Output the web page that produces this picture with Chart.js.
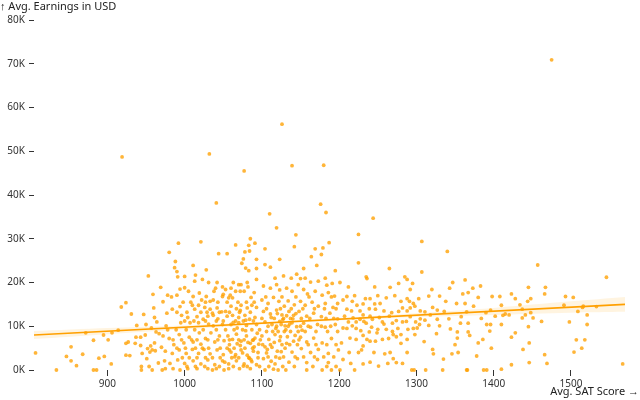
<!DOCTYPE html>
<html>
<head>
<meta charset="utf-8">
<script src="https://cdn.jsdelivr.net/npm/chart.js@4.4.1/dist/chart.umd.min.js"></script>
<style>
  body { margin: 0; background: #fff; }
</style>
</head>
<body>
<canvas id="myChart" width="640" height="400"></canvas>
<script>
const xTitle = "Avg. SAT Score →"
const yTitle = "↑ Avg. Earnings in USD"
const xTicks = [900, 1000, 1100, 1200, 1300, 1400, 1500]
const yTicks = [0, 10, 20, 30, 40, 50, 60, 70, 80]

// [avg SAT score, avg earnings in thousands USD]
const colleges = [
  [919,48.7],[1032,49.4],[1041,38.2],[1126,56.2],[1077,45.5],[1139,46.7],[1180,46.8],[1110,35.7],[1176,37.9],
  [1183,36.0],[1244,34.7],[1119,32.5],[1475,70.9],[1457,24.0],[1546,21.2],[1567,1.4],[1144,30.9],[1225,31.0],
  [992,29.0],[1021,29.3],[980,26.9],[1044,26.6],[1055,26.6],[987,23.4],[1011,23.9],[953,21.5],[990,22.5],
  [1000,21.4],[1014,21.7],[1028,22.9],[1013,20.3],[994,18.5],[1000,18.8],[978,17.1],[983,16.7],[990,17.1],
  [1011,16.8],[1019,17.6],[1028,16.8],[1040,18.7],[1050,17.3],[1057,16.5],
  [918,14.4],[924,15.4],[931,12.8],[960,14.2],[961,12.0],[950,10.4],[882,6.8],[895,8.0],[901,6.9],[906,8.5],
  [853,5.3],[807,3.9],[847,3.1],[853,2.1],[860,1.0],[834,0],[882,0],[886,0],[889,2.7],[896,3.1],[924,3.4],
  [929,3.3],[924,6.1],[927,6.4],[937,7.5],[943,7.5],[936,6.1],[943,5.6],[949,8.0],[945,3.8],[951,2.6],
  [952,4.9],[956,5.5],[961,6.2],[955,4.1],[958,4.6],[962,4.4],[944,0.8],[954,0.8],[957,9.6],[963,8.7],
  [1085,30.0],[1083,28.5],[1091,29.0],[1078,27.0],[1084,27.2],[1066,28.6],[1093,25.3],[1076,25.4],[1074,24.4],
  [1079,23.3],[991,21.3],[1023,20.7],[1049,19.0],[1053,18.4],[1060,18.7],[1070,19.5],[1073,19.5],[1059,17.1],
  [1062,16.5],[1072,18.0],[1082,19.0],[1090,17.7],[1086,16.6],[1093,20.7],[1093,23.2],[1083,22.7],[1022,16.0],
  [1033,15.7],[1037,16.0],[1049,16.8],[977,13.0],[984,13.9],[994,14.5],[1010,14.8],[1013,13.9],[1018,14.8],
  [1026,14.3],[1033,13.9],[1036,13.0],[1042,14.2],[1048,13.3],[1053,13.4],[1060,14.6],[1067,14.0],[1073,14.8],
  [1081,14.2],[1087,14.8],[1093,14.3],[996,12.5],[1004,12.0],[1016,12.2],[1024,11.6],[1030,12.3],[1037,12.5],
  [1043,11.7],[1055,12.3],[1062,12.5],[1070,12.0],[1078,12.5],[1084,11.6],[1091,12.0],[995,10.8],[1007,10.8],
  [1018,10.8],[1031,10.5],[1037,10.1],[1049,10.4],[1060,10.4],[1070,10.8],[1080,10.2],[1093,10.4],[972,7.8],
  [980,7.2],[986,5.8],[993,8.1],[999,6.2],[1006,7.5],[1011,6.4],[1019,8.5],[1021,5.9],[1027,7.2],[1034,8.5],
  [1039,6.4],[1045,7.8],[1051,6.7],[1056,7.8],[1062,7.0],[1067,8.2],[1073,6.6],[1080,7.8],[1085,6.1],[1091,7.3],
  [1096,5.9],[975,4.3],[984,3.8],[993,4.6],[1002,3.8],[1010,4.7],[1018,3.8],[1025,4.7],[1033,3.7],[1042,4.6],
  [1050,3.5],[1058,4.6],[1066,3.5],[1073,4.6],[1081,3.4],[1089,4.3],[974,2.1],[981,1.5],[991,2.3],[1000,1.5],
  [1011,2.1],[1021,1.4],[1030,2.3],[1039,1.2],[1049,2.1],[1057,1.4],[1067,2.1],[1077,1.4],[1086,2.3],[1093,1.2],
  [975,0.3],[985,0.3],[1004,0.3],[1016,0.3],[1030,0.3],[1041,0.3],[1057,0.3],[1071,0.3],[1085,0.3],
  [1104,27.7],[1142,28.2],[1169,27.7],[1179,27.9],[1187,29.1],[1177,26.4],[1164,25.9],[1123,25.3],[1104,24.1],
  [1111,23.5],[1154,23.2],[1171,23.9],[1195,22.7],[1225,24.5],[1128,21.5],[1145,21.9],[1150,20.9],[1163,20.1],
  [1173,20.3],[1184,19.4],[1191,19.8],[1201,20.0],[1210,16.8],[1102,19.2],[1111,18.7],[1119,19.5],[1123,18.3],
  [1132,18.7],[1139,18.0],[1147,19.5],[1154,18.4],[1159,17.4],[1169,18.0],[1178,17.1],[1186,17.7],[1194,16.9],
  [1205,16.0],[1217,15.7],[1223,14.8],[1100,16.0],[1108,15.2],[1115,16.6],[1122,15.7],[1129,14.6],[1134,15.8],
  [1142,14.9],[1150,15.7],[1156,14.8],[1165,15.5],[1173,14.6],[1182,15.2],[1192,14.3],[1198,15.2],[1210,13.9],
  [1102,13.4],[1111,12.8],[1119,13.7],[1126,12.6],[1135,13.4],[1141,12.5],[1148,13.4],[1158,12.3],[1167,13.0],
  [1177,12.2],[1188,13.0],[1198,11.7],[1207,12.3],[1218,11.9],[1104,11.0],[1113,10.4],[1123,11.1],[1130,10.1],
  [1139,10.8],[1145,9.9],[1154,10.7],[1163,9.8],[1172,10.4],[1182,9.8],[1195,10.4],[1205,9.6],[1217,10.1],
  [1100,7.8],[1109,7.0],[1117,8.1],[1123,6.7],[1133,7.6],[1141,6.6],[1150,7.5],[1158,6.4],[1167,7.3],[1178,6.2],
  [1190,7.2],[1203,6.2],[1214,7.3],[1104,5.3],[1107,4.7],[1113,5.2],[1120,4.3],[1130,5.0],[1139,4.1],[1151,4.9],
  [1163,4.0],[1173,4.7],[1186,3.8],[1199,4.6],[1213,4.0],[1102,2.6],[1112,2.0],[1123,2.7],[1135,1.8],[1146,2.6],
  [1158,1.7],[1172,2.4],[1186,1.7],[1205,2.4],[1104,0],[1115,0.2],[1158,0],[1178,0],[1201,0],
  [1307,29.4],[1340,27.1],[1265,23.2],[1307,22.4],[1235,21.3],[1236,20.9],[1285,21.3],[1288,20.7],[1277,19.8],
  [1295,19.8],[1266,18.9],[1292,18.4],[1320,18.4],[1343,18.7],[1347,20.0],[1373,18.7],[1383,19.2],[1330,16.9],
  [1360,17.4],[1367,17.7],[1380,16.6],[1261,16.5],[1234,16.3],[1240,16.3],[1288,16.3],[1303,16.3],[1291,15.7],
  [1280,15.7],[1296,15.2],[1338,15.7],[1352,15.2],[1363,15.2],[1231,15.1],[1246,15.1],[1253,15.2],[1239,14.0],
  [1247,13.9],[1282,14.2],[1292,14.2],[1298,14.6],[1321,14.3],[1327,13.7],[1336,13.4],[1268,13.1],[1277,13.4],
  [1311,13.3],[1318,12.6],[1365,13.3],[1231,12.6],[1240,12.3],[1252,12.0],[1265,12.3],[1292,12.2],[1305,11.7],
  [1227,11.6],[1232,11.1],[1243,11.6],[1274,11.3],[1287,11.1],[1311,11.4],[1342,11.7],[1357,10.7],[1367,10.7],
  [1391,10.4],[1235,10.7],[1258,10.5],[1269,10.7],[1304,10.4],[1316,10.2],[1330,10.1],[1242,9.8],[1250,9.3],
  [1261,9.3],[1289,9.3],[1301,9.6],[1228,9.0],[1239,8.7],[1249,8.5],[1269,8.8],[1231,7.9],[1270,8.1],[1274,7.6],
  [1280,8.1],[1298,8.1],[1353,8.7],[1367,8.7],[1369,7.9],[1264,7.2],[1240,6.6],[1247,6.6],[1280,6.1],[1353,7.3],
  [1380,6.2],[1386,7.0],[1231,5.5],[1229,4.6],[1259,3.7],[1270,2.6],[1274,1.7],[1321,4.7],[1322,3.7],[1346,3.7],
  [1354,4.0],[1231,1.4],[1240,1.8],[1251,0.9],[1294,0],[1297,0],[1312,0],[1334,0],[1365,0],[1387,0],[1391,0],
  [1445,18.9],[1467,18.9],[1398,16.8],[1408,16.8],[1423,17.4],[1428,16.3],[1466,17.4],[1493,16.8],[1503,16.6],
  [1448,16.3],[1444,15.7],[1410,14.8],[1434,14.9],[1491,14.8],[1515,14.3],[1516,14.6],[1533,14.5],[1437,13.9],
  [1396,13.7],[1509,13.4],[1521,12.6],[1415,12.8],[1420,12.6],[1412,12.5],[1402,12.3],[1441,12.6],[1448,13.1],
  [1437,11.9],[1451,11.9],[1462,11.1],[1498,11.0],[1396,10.4],[1410,10.4],[1521,10.4],[1445,9.9],[1428,8.5],
  [1423,7.5],[1446,6.2],[1507,6.9],[1518,6.9],[1397,5.0],[1438,4.7],[1514,5.0],[1504,4.1],[1466,3.5],[1423,1.2],
  [1446,1.7],[1469,1.5],[1410,0.2],
  [944,0],[958,0],[971,0],[994,0],[1036,0],[1051,0],[1121,0],[1131,0],[1190,0],[1220,0],[1366,0],
  // dense core, 1000-1100
  [1003,0.8],[1014,0.8],[1026,0.8],[1045,0.8],[1063,0.8],[1081,0.8],[1097,0.8],
  [997,2.8],[1006,2.8],[1016,2.8],[1027,2.8],[1036,2.8],[1046,2.8],[1061,2.8],[1070,2.8],[1083,2.8],[1095,2.8],
  [990,5.0],[1001,5.0],[1014,5.0],[1023,5.0],[1031,5.0],[1046,5.0],[1055,5.0],[1064,5.0],[1078,5.0],[1088,5.0],
  [985,6.9],[996,6.9],[1009,6.9],[1016,6.9],[1030,6.9],[1043,6.9],[1058,6.9],[1070,6.9],[1077,6.9],[1089,6.9],[1098,6.9],
  [978,9.2],[989,9.2],[1002,9.2],[1013,9.2],[1024,9.2],[1041,9.2],[1053,9.2],[1064,9.2],[1075,9.2],[1087,9.2],[1097,9.2],
  [1000,11.2],[1012,11.2],[1027,11.2],[1041,11.2],[1050,11.2],[1066,11.2],[1076,11.2],[1089,11.2],
  [990,13.2],[1003,13.2],[1021,13.2],[1029,13.2],[1045,13.2],[1058,13.2],[1071,13.2],[1085,13.2],
  [998,15.5],[1008,15.5],[1027,15.5],[1043,15.5],[1055,15.5],[1069,15.5],[1080,15.5],[1090,15.5],
  [1005,18.0],[1038,18.0],[1066,18.0],[1077,18.0],[1031,20.0],[1042,20.0],[1063,20.0],[1081,20.0],
  [1065,3.0],[1072,5.6],[1079,9.0],[1084,2.7],[1090,5.3],[1094,8.4],[1068,9.6],[1058,5.8],[1076,0.9],[1088,6.8],
  [1052,1.8],[1060,4.1],[1068,6.0],[1075,3.9],[1082,6.3],[1087,1.9],[1095,4.0],[1063,10.9],[1072,13.6],[1079,11.4],
  // dense core, 1100-1200
  [1109,0.8],[1127,0.8],[1142,0.8],[1166,0.8],[1184,0.8],[1196,0.8],
  [1108,3.0],[1118,3.0],[1128,3.0],[1143,3.0],[1154,3.0],[1168,3.0],[1180,3.0],[1193,3.0],
  [1101,5.8],[1111,5.8],[1126,5.8],[1136,5.8],[1146,5.8],[1160,5.8],[1170,5.8],[1184,5.8],[1196,5.8],
  [1106,8.8],[1114,8.8],[1121,8.8],[1129,8.8],[1137,8.8],[1147,8.8],[1156,8.8],[1170,8.8],[1185,8.8],[1198,8.8],
  [1108,10.0],[1119,10.0],[1134,10.0],[1150,10.0],[1160,10.0],[1177,10.0],[1189,10.0],
  [1100,11.8],[1116,11.8],[1128,11.8],[1137,11.8],[1151,11.8],[1162,11.8],[1183,11.8],[1193,11.8],
  [1106,14.0],[1124,14.0],[1138,14.0],[1153,14.0],[1168,14.0],[1181,14.0],[1196,14.0],
  [1105,16.7],[1126,16.7],[1144,16.7],[1161,16.7],[1190,16.7],[1117,21.0],[1138,21.0],[1156,21.0],[1182,21.0],
  [1112,12.0],[1120,12.9],[1127,11.5],[1132,12.4],[1136,10.5],[1140,11.7],[1144,12.9],[1118,9.5],[1125,10.4],
  [1131,9.2],[1143,7.9],[1152,9.1],[1116,6.3],[1124,7.6],[1132,6.1],[1148,6.9],[1106,3.9],[1117,1.4],[1125,4.2],
  // 1200-1300
  [1215,1.5],[1263,1.5],[1282,1.5],[1225,4.0],[1245,4.0],[1266,4.0],[1288,4.0],
  [1222,7.0],[1236,7.0],[1256,7.0],[1288,7.0],[1210,9.5],[1222,9.5],[1276,9.5],[1296,9.5],
  [1212,11.0],[1222,11.0],[1256,11.0],[1282,11.0],[1299,11.0],[1216,13.5],[1227,13.5],[1258,13.5],[1288,13.5],
  [1220,17.0],[1250,17.0],[1272,17.0],[1212,19.0],[1246,19.0],
  // 950-1000 and 1300-1400 fill-in
  [966,1.6],[970,5.2],[967,8.3],[964,11.0],[972,15.6],[969,18.9],[976,10.1],[988,24.8],[959,17.3],[947,12.7],
  [1310,6.5],[1326,8.3],[1344,9.4],[1358,12.2],[1374,14.6],[1390,13.1],[1316,16.9],[1335,2.5],[1378,3.2],
  [1395,8.9],[1305,13.5],[1350,5.8],[1327,11.6],[1363,20.6],[1384,11.8],
  [872,8.5],[914,9.1],[905,1.4],[868,3.6],[938,10.2]
]

// fitted trend and its confidence band
const trendSat = [805, 1570]
const trendEarn = [8.0, 15.0]
const bandSat = [805, 900, 1000, 1100, 1200, 1300, 1400, 1500, 1570]
const bandLower = [7.1, 8.2, 9.3, 10.4, 11.3, 12.1, 12.6, 13.1, 13.3]
const bandUpper = [8.9, 9.6, 10.2, 11.0, 11.9, 13.0, 14.2, 15.7, 16.7]

const font = { family: "'Noto Sans', 'Open Sans', sans-serif", size: 10 }

const axisTitles = {
  id: 'axisTitles',
  afterDraw(chart) {
    const c = chart.ctx
    c.save()
    c.fillStyle = '#222'
    c.font = "11px 'Noto Sans', 'Open Sans', sans-serif"
    c.textBaseline = 'middle'
    c.textAlign = 'left'
    c.fillText(yTitle, 0, 7)
    c.textAlign = 'right'
    c.fillText(xTitle, 639, 392)
    c.restore()
  }
}

const ctx = document.getElementById('myChart')

let chart = new Chart(ctx, {
  type: 'scatter',
  data: {
    datasets: [
      {
        data: bandSat.map((s, i) => ({ x: s, y: bandLower[i] })),
        showLine: true,
        borderWidth: 0,
        pointRadius: 0,
        tension: 0.3,
        fill: false,
        order: 3
      },
      {
        data: bandSat.map((s, i) => ({ x: s, y: bandUpper[i] })),
        showLine: true,
        borderWidth: 0,
        pointRadius: 0,
        tension: 0.3,
        fill: '-1',
        backgroundColor: 'rgba(255,165,0,0.12)',
        order: 3
      },
      {
        data: colleges.map(p => ({ x: p[0], y: p[1] })),
        pointRadius: 1.9,
        pointBorderWidth: 0,
        pointBackgroundColor: 'rgba(255,160,0,0.78)',
        clip: false,
        order: 2
      },
      {
        data: trendSat.map((s, i) => ({ x: s, y: trendEarn[i] })),
        showLine: true,
        borderColor: '#ffa000',
        borderWidth: 1.6,
        pointRadius: 0,
        order: 1
      }
    ]
  },
  options: {
    responsive: false,
    animation: false,
    devicePixelRatio: 1,
    layout: { padding: { top: 20, right: 15, left: 0, bottom: 0 } },
    plugins: {
      legend: { display: false },
      tooltip: { enabled: false }
    },
    scales: {
      x: {
        type: 'linear',
        min: 805,
        max: 1570,
        afterBuildTicks: s => { s.ticks = xTicks.map(v => ({ value: v })) },
        afterFit: s => { s.height = 30 },
        border: { display: false },
        grid: { drawOnChartArea: false, tickLength: 6, color: '#333' },
        ticks: { font: font, color: '#333', padding: 2, maxRotation: 0, callback: v => String(v) }
      },
      y: {
        min: 0,
        max: 80,
        afterBuildTicks: s => { s.ticks = yTicks.map(v => ({ value: v })) },
        afterFit: s => { s.width = 34 },
        border: { display: false },
        grid: { drawOnChartArea: false, tickLength: 5, color: '#333' },
        ticks: { font: font, color: '#333', padding: 4, callback: v => v + 'K' }
      }
    }
  },
  plugins: [axisTitles]
})
</script>
</body>
</html>
